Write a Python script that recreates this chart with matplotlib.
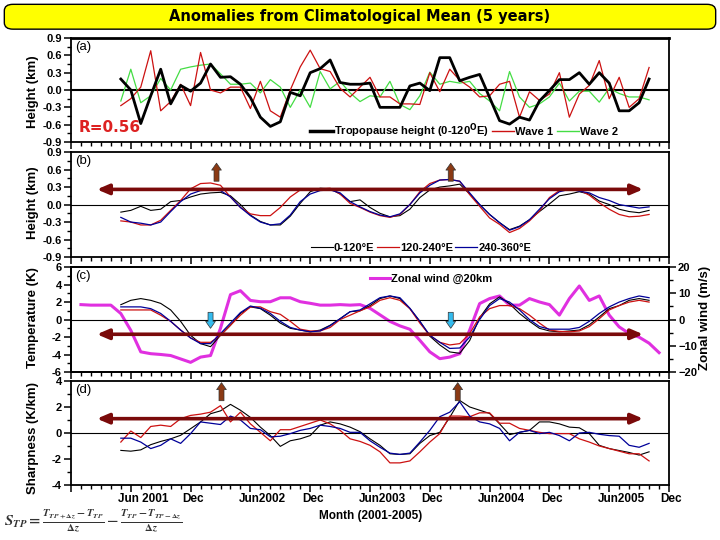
import numpy as np
import matplotlib
matplotlib.use('Agg')
import matplotlib.pyplot as plt
from matplotlib.ticker import MultipleLocator, FormatStrFormatter
from matplotlib.patches import FancyBboxPatch, FancyArrowPatch
from matplotlib.lines import Line2D

plt.rcParams['font.family'] = ['Liberation Sans', 'DejaVu Sans']
plt.rcParams['font.weight'] = 'bold'

# ========================
# Datos (mes 0 = Dic 2000, mes 60 = Dic 2005)
# ========================
months = np.arange(5, 59)
wind_months = np.arange(1, 60)

tick_months = [6, 12, 18, 24, 30, 36, 42, 48, 54, 60]
tick_labels = ['Jun 2001', 'Dec', 'Jun2002', 'Dec', 'Jun2003', 'Dec',
               'Jun2004', 'Dec', 'Jun2005', 'Dec']

# (a) altura de la tropopausa y ondas
tp_height = [0.19, 0.0, -0.58, -0.1, 0.36, -0.24, 0.08, -0.02, 0.12, 0.45,
             0.22, 0.23, 0.1, -0.13, -0.47, -0.63, -0.55, -0.04, -0.1, 0.3,
             0.37, 0.52, 0.13, 0.1, 0.1, 0.12, -0.3, -0.3, -0.3, 0.07,
             0.12, -0.01, 0.56, 0.56, 0.16, 0.22, 0.27, -0.13, -0.53, -0.59,
             -0.47, -0.52, -0.19, -0.01, 0.18, 0.18, 0.3, 0.1, 0.3, 0.12,
             -0.36, -0.36, -0.22, 0.19]
wave1 = [-0.27, -0.15, 0.05, 0.68, -0.36, -0.2, 0.1, -0.27, 0.65, 0.0,
         -0.05, 0.05, 0.05, -0.32, 0.15, -0.36, -0.47, 0.0, 0.4, 0.69,
         0.37, 0.32, 0.03, -0.12, 0.05, 0.22, -0.12, -0.12, -0.24, -0.24,
         -0.25, 0.3, -0.03, 0.36, 0.17, 0.05, -0.12, -0.1, 0.1, 0.15,
         -0.47, -0.03, -0.18, -0.07, 0.3, -0.47, -0.07, 0.08, 0.51, -0.15,
         0.22, -0.3, -0.15, 0.39]
wave2 = [-0.19, 0.36, -0.22, -0.1, 0.2, 0.0, 0.36, 0.4, 0.43, 0.45,
         0.28, 0.1, 0.1, 0.12, -0.05, 0.18, 0.05, -0.3, 0.0, -0.3,
         0.32, 0.02, 0.15, -0.05, -0.2, -0.1, -0.12, 0.15, -0.25, -0.34,
         -0.1, 0.31, 0.1, 0.15, 0.12, 0.15, -0.06, -0.19, -0.36, 0.32,
         -0.12, -0.3, -0.24, -0.12, 0.12, -0.19, -0.02, -0.02, -0.21, 0.03,
         -0.06, -0.12, -0.12, -0.17]

# (b) altura suavizada por sector de longitud
height_0_120 = [-0.13, -0.1, -0.03, -0.1, -0.08, 0.05, 0.07, 0.13, 0.18, 0.2,
                0.21, 0.15, 0.0, -0.18, -0.29, -0.35, -0.35, -0.2, 0.02, 0.22,
                0.28, 0.27, 0.18, 0.05, 0.08, -0.05, -0.15, -0.21, -0.19, -0.08,
                0.12, 0.25, 0.3, 0.32, 0.35, 0.18, 0.0, -0.17, -0.31, -0.43,
                -0.37, -0.26, -0.12, 0.01, 0.15, 0.18, 0.22, 0.18, 0.06, 0.0,
                -0.08, -0.12, -0.14, -0.1]
height_120_240 = [-0.28, -0.3, -0.35, -0.35, -0.27, -0.1, 0.07, 0.27, 0.36, 0.37,
                  0.33, 0.13, -0.05, -0.16, -0.19, -0.19, -0.05, 0.13, 0.25, 0.26,
                  0.27, 0.28, 0.18, 0.02, -0.05, -0.13, -0.19, -0.22, -0.17, 0.0,
                  0.22, 0.36, 0.42, 0.43, 0.4, 0.17, -0.03, -0.23, -0.34, -0.48,
                  -0.41, -0.28, -0.11, 0.12, 0.24, 0.26, 0.25, 0.16, 0.03, -0.08,
                  -0.17, -0.21, -0.2, -0.17]
height_240_360 = [-0.22, -0.3, -0.32, -0.35, -0.3, -0.12, 0.05, 0.18, 0.24, 0.25,
                  0.24, 0.13, -0.05, -0.19, -0.3, -0.35, -0.33, -0.18, 0.05, 0.18,
                  0.24, 0.25, 0.2, 0.05, -0.04, -0.12, -0.18, -0.21, -0.16, 0.0,
                  0.2, 0.33, 0.42, 0.43, 0.4, 0.2, 0.0, -0.17, -0.31, -0.44,
                  -0.38, -0.26, -0.08, 0.1, 0.22, 0.26, 0.23, 0.2, 0.12, 0.07,
                  0.0, -0.03, -0.06, -0.04]

# (c) temperatura y viento zonal
temp_0_120 = [1.7, 2.2, 2.4, 2.2, 1.85, 1.1, -0.2, -1.8, -2.75, -3.1,
              -1.8, -0.65, 0.7, 1.45, 1.25, 0.5, -0.4, -1.0, -1.2, -1.4,
              -1.2, -0.65, 0.1, 0.9, 1.0, 1.6, 2.4, 2.7, 2.4, 1.25,
              -0.2, -1.9, -2.9, -3.7, -3.85, -2.4, 0.2, 1.8, 2.6, 1.8,
              0.7, -0.2, -1.0, -1.3, -1.4, -1.3, -1.2, -0.6, 0.3, 1.25,
              1.6, 2.2, 2.4, 2.2]
temp_120_240 = [1.1, 1.1, 1.1, 1.1, 0.5, -0.2, -1.2, -2.1, -2.6, -2.6,
                -1.8, -0.65, 0.5, 1.45, 1.45, 0.9, 0.6, -0.2, -1.1, -1.3,
                -1.3, -0.9, 0.0, 0.5, 1.0, 1.45, 2.2, 2.5, 2.2, 1.25,
                -0.4, -1.8, -2.6, -2.9, -2.75, -1.6, 0.3, 1.25, 1.6, 1.6,
                1.25, 0.5, -0.4, -1.2, -1.35, -1.4, -1.3, -0.8, 0.1, 1.1,
                1.6, 2.0, 2.2, 2.0]
temp_240_360 = [1.45, 1.45, 1.45, 1.25, 0.7, -0.2, -1.2, -2.1, -2.75, -2.75,
                -1.6, -0.4, 0.8, 1.55, 1.3, 0.7, -0.2, -0.9, -1.2, -1.4,
                -1.3, -0.7, 0.1, 0.9, 1.1, 1.8, 2.5, 2.7, 2.5, 1.3,
                -0.2, -1.8, -2.6, -3.3, -3.25, -2.0, 0.0, 1.6, 2.4, 2.0,
                1.1, 0.0, -0.8, -1.1, -1.1, -1.1, -0.9, -0.2, 0.7, 1.45,
                2.0, 2.4, 2.7, 2.5]
zonal_wind = [5.7, 5.5, 5.5, 5.5, 2.3, -4.1, -12.3, -13.0, -13.3, -13.7,
              -15.0, -16.3, -14.3, -13.7, -3.3, 9.5, 11.0, 7.3, 6.8, 6.8,
              8.3, 8.3, 6.8, 6.2, 5.5, 5.5, 5.7, 5.5, 5.7, 4.3,
              1.8, -0.7, -2.4, -3.7, -7.9, -12.3, -14.9, -14.3, -13.0, -4.0,
              6.1, 8.0, 9.0, 5.5, 5.5, 8.0, 6.7, 5.7, 1.7, 8.0,
              12.8, 7.3, 9.0, 1.7, -2.8, -5.3, -6.7, -9.0, -12.6]

# (d) nitidez de la tropopausa
sharp_0_120 = [-1.34, -1.4, -1.3, -0.9, -0.65, -0.45, -0.18, 0.33, 0.85, 1.48,
               1.7, 2.2, 1.75, 1.2, 0.45, -0.2, -1.03, -0.6, -0.45, -0.2,
               0.6, 0.85, 0.7, 0.45, 0.1, -0.45, -0.95, -1.6, -1.65, -1.6,
               -0.8, -0.2, 0.05, 1.2, 2.5, 2.0, 1.75, 1.5, 0.7, -0.13,
               0.05, 0.2, 0.85, 0.85, 0.7, 0.45, 0.4, -0.05, -0.95, -1.2,
               -1.35, -1.5, -1.7, -1.45]
sharp_120_240 = [-0.7, 0.15, -0.35, 0.5, 0.6, 0.5, 1.1, 1.35, 1.45, 1.6,
                 2.1, 0.85, 1.6, 0.7, 0.05, -0.6, 0.25, 0.25, 0.5, 0.75,
                 1.0, 0.7, 0.2, -0.45, -0.65, -0.95, -1.45, -2.3, -2.3, -2.15,
                 -1.45, -0.7, -0.05, 1.3, 1.3, 1.25, 1.55, 1.55, 0.75, 0.75,
                 0.35, 0.2, 0.05, -0.05, -0.05, -0.05, -0.45, -0.7, -1.0, -1.2,
                 -1.4, -1.6, -1.6, -2.15]
sharp_240_360 = [-0.4, -0.4, -0.7, -1.2, -0.95, -0.45, -0.8, -0.05, 0.85, 0.75,
                 0.65, 1.3, 1.0, 0.35, 0.25, -0.3, -0.25, -0.05, 0.2, 0.35,
                 0.6, 0.5, 0.35, 0.05, 0.05, -0.6, -1.1, -1.55, -1.65, -1.55,
                 -0.7, 0.2, 1.25, 1.6, 2.4, 1.3, 0.85, 0.7, 0.35, -0.6,
                 0.05, 0.2, -0.05, 0.05, -0.2, -0.6, 0.0, 0.05, -0.1, -0.2,
                 -0.25, -0.95, -1.1, -0.8]

# niveles de las flechas horizontales y meses de las flechas verticales
arrow_level = {'b': 0.26, 'c': -1.68, 'd': 1.1}
arrow_span = (2.6, 57.4)
peak_months_b = [14.6, 38.1]
peak_months_c = [14.0, 38.1]
peak_months_d = [15.1, 38.8]

# ========================
# Estilo general
# ========================
RED = '#cc1111'
BLUE = '#000099'
GREEN = '#44dd44'
MAGENTA = '#e030e0'
ARROW_RED = '#7a0a0a'
BROWN = '#8b3a14'
CYAN = '#33bbee'

fig = plt.figure(figsize=(7.2, 5.4), dpi=100)

left, width = 0.0986, 0.8306
ax_a = fig.add_axes([left, 0.737, width, 0.1926])
ax_b = fig.add_axes([left, 0.524, width, 0.1944])
ax_c = fig.add_axes([left, 0.311, width, 0.1944])
ax_d = fig.add_axes([left, 0.1019, width, 0.1926])


def style_axis(ax, ylim, ystep, yminor, fmt):
    ax.set_xlim(0, 60)
    ax.set_ylim(*ylim)
    ax.xaxis.set_major_locator(MultipleLocator(6))
    ax.xaxis.set_minor_locator(MultipleLocator(1))
    ax.yaxis.set_major_locator(MultipleLocator(ystep))
    ax.yaxis.set_minor_locator(MultipleLocator(yminor))
    ax.yaxis.set_major_formatter(FormatStrFormatter(fmt))
    ax.tick_params(axis='both', which='major', direction='out', length=5, width=1.1, labelsize=8)
    ax.tick_params(axis='both', which='minor', direction='out', length=3, width=1)
    ax.tick_params(axis='y', pad=1.5)
    ax.set_xticklabels([])
    for s in ax.spines.values():
        s.set_linewidth(1.3)


style_axis(ax_a, (-0.9, 0.9), 0.3, 0.15, '%.1f')
style_axis(ax_b, (-0.9, 0.9), 0.3, 0.15, '%.1f')
style_axis(ax_c, (-6, 6), 2, 1, '%d')
style_axis(ax_d, (-4, 4), 2, 1, '%d')
ax_a.spines['top'].set_linewidth(2)


def flat_arrow(ax, y):
    ax.annotate('', xy=(arrow_span[1], y), xytext=(arrow_span[0], y),
                arrowprops=dict(arrowstyle='<|-|>,head_length=0.7,head_width=0.3',
                                color=ARROW_RED, lw=2.6, shrinkA=0, shrinkB=0),
                zorder=6)


def vert_arrow(ax, x, y0, y1, color):
    p = FancyArrowPatch((x, y0), (x, y1),
                        arrowstyle='simple,head_length=5,head_width=7,tail_width=3.6',
                        mutation_scale=1, fc=color, ec='#333333', lw=0.5,
                        shrinkA=0, shrinkB=0, zorder=7)
    ax.add_patch(p)


# ========================
# Panel (a)
# ========================
ax_a.axhline(0, color='black', lw=1.5, zorder=1)
ax_a.plot(months, wave2, color=GREEN, lw=0.9)
ax_a.plot(months, wave1, color=RED, lw=0.9)
ax_a.plot(months, tp_height, color='black', lw=2.0)
ax_a.text(0.007, 0.97, '(a)', transform=ax_a.transAxes, ha='left', va='top',
          fontsize=9.5, fontweight='normal')
ax_a.text(0.012, 0.14, 'R=0.56', transform=ax_a.transAxes, ha='left', va='center',
          fontsize=11, color='#dd2222', fontweight='bold', family='DejaVu Sans')
handles_a = [Line2D([], [], color='black', lw=2.5), Line2D([], [], color=RED, lw=1),
             Line2D([], [], color=GREEN, lw=1)]
ax_a.legend(handles_a, [r'Tropopause height (0-120$^{\mathbf{O}}$E)', 'Wave 1', 'Wave 2'],
            loc='center right', bbox_to_anchor=(0.915, 0.105), ncol=3, frameon=False,
            fontsize=8, handlelength=2.0, handletextpad=0.1, columnspacing=0.3,
            borderpad=0, borderaxespad=0)

# ========================
# Panel (b)
# ========================
ax_b.axhline(0, color='black', lw=0.8, zorder=1)
lb1, = ax_b.plot(months, height_0_120, color='black', lw=0.8)
lb2, = ax_b.plot(months, height_120_240, color=RED, lw=0.9)
lb3, = ax_b.plot(months, height_240_360, color=BLUE, lw=0.9)
flat_arrow(ax_b, arrow_level['b'])
for m in peak_months_b:
    vert_arrow(ax_b, m, 0.40, 0.71, BROWN)
ax_b.text(0.007, 0.97, '(b)', transform=ax_b.transAxes, ha='left', va='top',
          fontsize=9.5, fontweight='normal')
ax_b.legend([lb1, lb2, lb3], ['0-120°E', '120-240°E', '240-360°E'],
            loc='center right', bbox_to_anchor=(0.77, 0.085), ncol=3, frameon=False,
            fontsize=8, handlelength=2.0, handletextpad=0.1, columnspacing=0.2,
            borderpad=0, borderaxespad=0)

# ========================
# Panel (c) con eje derecho de viento
# ========================
ax_w = ax_c.twinx()
ax_w.set_ylim(-20, 20)
ax_w.yaxis.set_major_locator(MultipleLocator(10))
ax_w.yaxis.set_minor_locator(MultipleLocator(5))
ax_w.tick_params(axis='y', which='major', direction='out', length=5, width=1.1, labelsize=8, pad=1.5)
ax_w.tick_params(axis='y', which='minor', direction='out', length=3, width=1)
for s in ax_w.spines.values():
    s.set_linewidth(1.3)
lw_, = ax_w.plot(wind_months, zonal_wind, color=MAGENTA, lw=2.2)
ax_w.legend([lw_], ['Zonal wind @20km'], loc='center left', bbox_to_anchor=(0.5, 0.885),
            frameon=False, fontsize=8, handlelength=1.8, handletextpad=0.1,
            borderpad=0, borderaxespad=0)
ax_c.set_zorder(ax_w.get_zorder() + 1)
ax_c.patch.set_visible(False)

ax_c.axhline(0, color='black', lw=0.8, zorder=1)
ax_c.plot(months, temp_0_120, color='black', lw=0.8)
ax_c.plot(months, temp_120_240, color=RED, lw=0.9)
ax_c.plot(months, temp_240_360, color=BLUE, lw=0.9)
flat_arrow(ax_c, arrow_level['c'])
for m in peak_months_c:
    vert_arrow(ax_c, m, 0.83, -1.0, CYAN)
ax_c.text(0.007, 0.97, '(c)', transform=ax_c.transAxes, ha='left', va='top',
          fontsize=9.5, fontweight='normal')

# ========================
# Panel (d)
# ========================
ax_d.axhline(0, color='black', lw=0.8, zorder=1)
ax_d.plot(months, sharp_0_120, color='black', lw=0.8)
ax_d.plot(months, sharp_120_240, color=RED, lw=0.9)
ax_d.plot(months, sharp_240_360, color=BLUE, lw=0.9)
flat_arrow(ax_d, arrow_level['d'])
for m in peak_months_d:
    vert_arrow(ax_d, m, 2.48, 3.87, BROWN)
ax_d.text(0.007, 0.97, '(d)', transform=ax_d.transAxes, ha='left', va='top',
          fontsize=9.5, fontweight='normal')

# etiquetas del eje x (los "Jun" van algo desplazados a la derecha, como en el original)
for m, lab in zip(tick_months, tick_labels):
    off = 1.2 if lab.startswith('Jun') else 0.25
    ax_d.text(m + off, -0.08, lab, transform=ax_d.get_xaxis_transform(),
              ha='center', va='top', fontsize=8.5, fontweight='bold')

# ========================
# Textos de la figura
# ========================
fig.text(371 / 720, 1 - 516 / 540, 'Month (2001-2005)', ha='center', va='center',
         fontsize=8.5, fontweight='bold')
fig.text(33 / 720, 1 - 92 / 540, 'Height (km)', rotation=90, ha='center', va='center',
         fontsize=9.5, fontweight='bold')
fig.text(33 / 720, 1 - 203 / 540, 'Height (km)', rotation=90, ha='center', va='center',
         fontsize=9.5, fontweight='bold')
fig.text(33 / 720, 1 - 318 / 540, 'Temperature (K)', rotation=90, ha='center', va='center',
         fontsize=9.5, fontweight='bold')
fig.text(33 / 720, 1 - 438 / 540, 'Sharpness (K/km)', rotation=90, ha='center', va='center',
         fontsize=9.5, fontweight='bold')
fig.text(705 / 720, 1 - 318 / 540, 'Zonal wind (m/s)', rotation=90, ha='center', va='center',
         fontsize=9.5, fontweight='bold')

fig.text(4 / 720, 1 - 521 / 540,
         r'$S_{TP}=\frac{T_{TP+\Delta z}-T_{TP}}{\Delta z}-\frac{T_{TP}-T_{TP-\Delta z}}{\Delta z}$',
         ha='left', va='center', fontsize=11, color='#333333', math_fontfamily='stix')

# caja amarilla del título
title_box = FancyBboxPatch((0.006, 0.946), 0.988, 0.046,
                           boxstyle='round,pad=0,rounding_size=0.012',
                           transform=fig.transFigure, fc='#ffff00', ec='black', lw=1.0)
fig.add_artist(title_box)
fig.text(0.5, 0.969, 'Anomalies from Climatological Mean (5 years)', ha='center', va='center',
         fontsize=10.5, fontweight='bold', family='DejaVu Sans')

fig.savefig('out.png', dpi=100)
